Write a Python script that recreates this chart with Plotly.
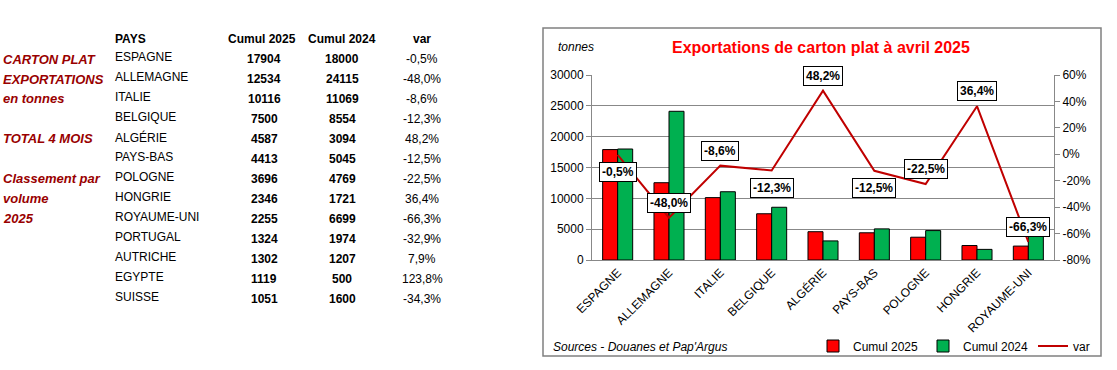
import plotly.graph_objects as go

W, H = 1117, 370

# ---------------- data ----------------
pays = ["ESPAGNE", "ALLEMAGNE", "ITALIE", "BELGIQUE", "ALGÉRIE", "PAYS-BAS", "POLOGNE",
        "HONGRIE", "ROYAUME-UNI", "PORTUGAL", "AUTRICHE", "EGYPTE", "SUISSE"]
cumul_2025 = [17904, 12534, 10116, 7500, 4587, 4413, 3696, 2346, 2255, 1324, 1302, 1119, 1051]
cumul_2024 = [18000, 24115, 11069, 8554, 3094, 5045, 4769, 1721, 6699, 1974, 1207, 500, 1600]
var_pct = [-0.5, -48.0, -8.6, -12.3, 48.2, -12.5, -22.5, 36.4, -66.3, -32.9, 7.9, 123.8, -34.3]

n_chart = 9
chart_pays = pays[:n_chart]
chart_2025 = cumul_2025[:n_chart]
chart_2024 = cumul_2024[:n_chart]
chart_var = [v / 100 for v in var_pct[:n_chart]]

left_tickvals = [0, 5000, 10000, 15000, 20000, 25000, 30000]
right_tickvals = [-0.8, -0.6, -0.4, -0.2, 0, 0.2, 0.4, 0.6]
right_ticktext = ["-80%", "-60%", "-40%", "-20%", "0%", "20%", "40%", "60%"]

side_labels = ["CARTON PLAT", "EXPORTATIONS", "en tonnes", "", "TOTAL 4 MOIS", "",
               "Classement par", "volume", "2025"]

# label placement (style): +1 above, -1 below
label_side = [-1, 1, 1, -1, 1, -1, 1, 1, 1]

FONT = "Arial, Liberation Sans, sans-serif"


def px(x):
    return x / W


def py(y):
    return 1 - y / H


def fmt_pct(v):
    return f"{v:.1f}".replace(".", ",") + "%"


def txt(x, y, text, anchor="center", size=12, color="black"):
    return dict(x=px(x), y=py(y), xref="paper", yref="paper", showarrow=False,
                xanchor=anchor, yanchor="middle", text=text,
                font=dict(family=FONT, size=size, color=color))


fig = go.Figure()
fig.add_trace(go.Bar(name="Cumul 2025", x=chart_pays, y=chart_2025,
                     marker=dict(color="#FF0000", line=dict(color="black", width=1))))
fig.add_trace(go.Bar(name="Cumul 2024", x=chart_pays, y=chart_2024,
                     marker=dict(color="#00B050", line=dict(color="black", width=1))))
fig.add_trace(go.Scatter(name="var", x=chart_pays, y=chart_var, yaxis="y2", mode="lines",
                         line=dict(color="#C00000", width=2)))

annotations = []
# data labels for var
for c, v, s in zip(chart_pays, chart_var, label_side):
    annotations.append(dict(x=c, y=v, xref="x", yref="y2", text=f"<b>{fmt_pct(v * 100)}</b>",
                            showarrow=False, xanchor="center", yanchor="middle",
                            yshift=15 if s > 0 else -17,
                            font=dict(family=FONT, size=12, color="black"),
                            bgcolor="white", bordercolor="black", borderwidth=1, borderpad=2))

# chart texts
annotations.append(txt(821, 47, "<b>Exportations de carton plat à avril 2025</b>", size=16,
                       color="#FF0000"))
annotations.append(txt(556, 47, "<i>tonnes</i>", anchor="left"))
annotations.append(txt(551, 347, "<i>Sources - Douanes et Pap'Argus</i>", anchor="left"))

# left table
hdr_y = 39
annotations.append(txt(113, hdr_y, "<b>PAYS</b>", anchor="left"))
annotations.append(txt(262, hdr_y, "<b>Cumul 2025</b>"))
annotations.append(txt(342, hdr_y, "<b>Cumul 2024</b>"))
annotations.append(txt(422, hdr_y, "<b>var</b>"))
for i, (p, a, b, v) in enumerate(zip(pays, cumul_2025, cumul_2024, var_pct)):
    yy = 57 + 20 * i
    annotations.append(txt(113, yy, p, anchor="left"))
    annotations.append(txt(264, yy + 2, f"<b>{a}</b>"))
    annotations.append(txt(342, yy + 2, f"<b>{b}</b>"))
    annotations.append(txt(422, yy + 2, fmt_pct(v)))
for i, t in enumerate(side_labels):
    if not t:
        continue
    annotations.append(txt(1, 59 + 20 * i, f"<b><i>{t}</i></b>", anchor="left", size=13,
                           color="#990000"))

fig.update_layout(
    width=W, height=H, margin=dict(l=0, r=0, t=0, b=0, autoexpand=False),
    paper_bgcolor="white", plot_bgcolor="white",
    font=dict(family=FONT, size=12, color="black"),
    barmode="group", bargap=0.415, bargroupgap=0,
    xaxis=dict(domain=[px(592), px(1054)], tickangle=-45, showline=True, linecolor="#888888",
               linewidth=1, ticks="", showgrid=False, tickfont=dict(size=12), automargin=False),
    yaxis=dict(domain=[py(260), py(75)], range=[0, 30000], tickvals=left_tickvals,
               tickformat="d", automargin=False,
               showline=True, linecolor="#888888", ticks="outside", ticklen=5, tickcolor="#888888",
               showgrid=True, gridcolor="#888888", gridwidth=1, zeroline=False,
               tickfont=dict(size=12)),
    yaxis2=dict(overlaying="y", side="right", range=[-0.8, 0.6], tickvals=right_tickvals,
                ticktext=right_ticktext, showline=True, linecolor="#888888", ticks="outside",
                ticklen=5, tickcolor="#888888", showgrid=False, zeroline=False, automargin=False,
                tickfont=dict(size=12), anchor="x"),
    showlegend=True,
    legend=dict(orientation="h", x=px(813), y=py(346), xanchor="left", yanchor="middle",
                font=dict(size=12), itemwidth=30, entrywidth=65, entrywidthmode="pixels",
                bgcolor="rgba(0,0,0,0)", tracegroupgap=0),
    annotations=annotations,
    shapes=[dict(type="rect", xref="paper", yref="paper", x0=px(543), x1=px(1101),
                 y0=py(356), y1=py(28), line=dict(color="#808080", width=1.5), layer="below")],
)

fig.write_html("out.html", config={"displayModeBar": False},
               post_script="document.body.style.margin='0px';document.body.style.overflow='hidden';")
